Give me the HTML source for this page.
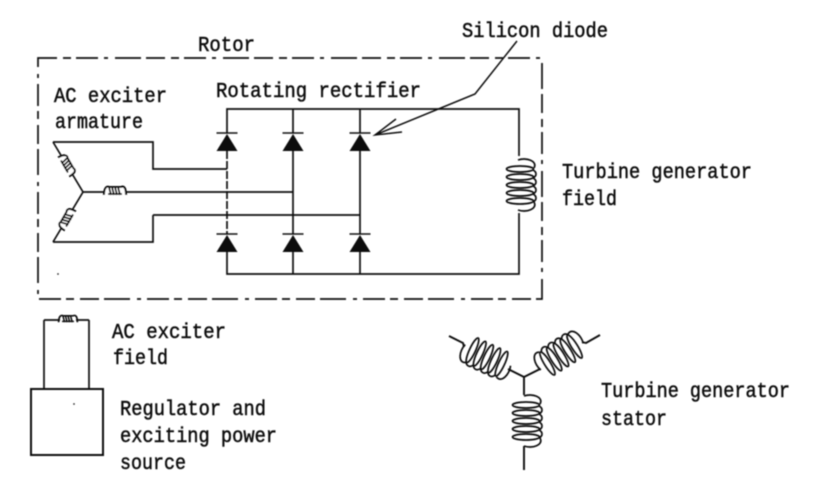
<!DOCTYPE html>
<html><head><meta charset="utf-8"><style>
html,body{margin:0;padding:0;background:#fff;width:818px;height:496px;overflow:hidden}
svg{display:block}
text{font-family:"Liberation Mono",monospace;font-size:21px;fill:#111;stroke:#111;stroke-width:.5px}
</style></head><body>
<svg width="818" height="496" viewBox="0 0 818 496" xmlns="http://www.w3.org/2000/svg">
<defs>
<filter id="b" x="-5%" y="-5%" width="110%" height="110%"><feGaussianBlur stdDeviation="0.4"/></filter>
<g id="coil" fill="none" stroke="#111" stroke-width="1.7">
<ellipse cx="0" cy="-16" rx="13.500" ry="3"/><ellipse cx="0" cy="-8" rx="13.500" ry="3"/><ellipse cx="0" cy="0" rx="13.500" ry="3"/><ellipse cx="0" cy="8" rx="13.500" ry="3"/><ellipse cx="0" cy="16" rx="13.500" ry="3"/>
<path d="M-2,-25C6,-28 18,-24 14,-17M13,-15C17,-13 17,-9 13,-7M13,-7C17,-5 17,-1 13,1M13,1C17,3 17,7 13,9M13,9C17,11 17,15 13,17M14,17C18,24 6,28 -2,25"/>
</g>
<g id="sm" fill="none" stroke="#111" stroke-width="2">
<path d="M-11,4C-11,-5 -7,-5 -6,-4H6C8,-5 11,-5 11,4"/>
<path d="M-6,-4L-4,4M-3,-4L-1,4M0,-4L2,4M3,-4L5,4M-7,3H7" stroke-width="1.800"/>
</g>
<g id="d"><path d="M-10.500,18L10.500,18L0,1Z" fill="#111"/><path d="M-10.500,0H10.500" stroke="#111" stroke-width="1.500"/></g>
</defs>
<g filter="url(#b)">
<g fill="none" stroke="#111" stroke-width="1.700">
<path d="M38,58H542V299H38Z" stroke-dasharray="19 6 8 5 22 6 4 7 26 5"/>
<path d="M227,133V109H519V156M519,213V274H227V252M293,109V133M293,150V234M293,252V274M360,109V133M360,150V234M360,252V274"/>
<path d="M227,151V234" stroke-dasharray="8 2"/>
<path d="M53,142H153V169H227M83,192H293M153,215H360M153,215V242H53M53,142L83,192L53,242"/>
<path d="M517,41L475,94L375,135M396,119L375,135L402,132" stroke-width="1.500"/>
<path d="M44,320V389M89,320V389M44,320H60M76,320H89"/>
<path d="M31,389H103V455H31Z" stroke-width="2"/>
<path d="M524,377V395M524,446V470M524,377L508,369M524,377L540,369M464,347L463,343L449,336M582,342L586,343L600,335" stroke-width="1.900"/>
</g>
<use href="#d" x="227" y="133"/><use href="#d" x="293" y="133"/><use href="#d" x="360" y="133"/>
<use href="#d" x="227" y="234"/><use href="#d" x="293" y="234"/><use href="#d" x="360" y="234"/>
<use href="#coil" transform="translate(520,185)"/>
<use href="#coil" transform="translate(526,421)"/>
<use href="#coil" transform="translate(487,357) rotate(115)"/>
<use href="#coil" transform="translate(561,355) rotate(-122)"/>
<rect x="60" y="155" width="14" height="20" fill="#fff" transform="rotate(-30 67 165)"/>
<rect x="60" y="209" width="14" height="20" fill="#fff" transform="rotate(30 67 219)"/>
<rect x="104" y="188" width="22" height="8" fill="#fff"/>
<use href="#sm" transform="translate(67,165) rotate(60)"/>
<use href="#sm" transform="translate(67,219) rotate(-60)"/>
<use href="#sm" transform="translate(115,191)"/>
<use href="#sm" transform="translate(68,319) scale(.85,.8)"/>
<circle cx="58" cy="274" r=".9" fill="#333"/><circle cx="74" cy="404" r=".9" fill="#333"/>
<text x="462" y="37" textLength="146" lengthAdjust="spacingAndGlyphs">Silicon diode</text>
<text x="198" y="51" textLength="57" lengthAdjust="spacingAndGlyphs">Rotor</text>
<text x="216" y="97" textLength="205" lengthAdjust="spacingAndGlyphs">Rotating rectifier</text>
<text x="54" y="102" textLength="113" lengthAdjust="spacingAndGlyphs">AC exciter</text>
<text x="55" y="128" textLength="88" lengthAdjust="spacingAndGlyphs">armature</text>
<text x="562" y="178" textLength="190" lengthAdjust="spacingAndGlyphs">Turbine generator</text>
<text x="562" y="205" textLength="55" lengthAdjust="spacingAndGlyphs">field</text>
<text x="112" y="338" textLength="114" lengthAdjust="spacingAndGlyphs">AC exciter</text>
<text x="113" y="364" textLength="55" lengthAdjust="spacingAndGlyphs">field</text>
<text x="120" y="415" textLength="146" lengthAdjust="spacingAndGlyphs">Regulator and</text>
<text x="120" y="442" textLength="157" lengthAdjust="spacingAndGlyphs">exciting power</text>
<text x="120" y="469" textLength="66" lengthAdjust="spacingAndGlyphs">source</text>
<text x="601" y="397" textLength="189" lengthAdjust="spacingAndGlyphs">Turbine generator</text>
<text x="601" y="425" textLength="66" lengthAdjust="spacingAndGlyphs">stator</text>
</g>
</svg>
</body></html>
